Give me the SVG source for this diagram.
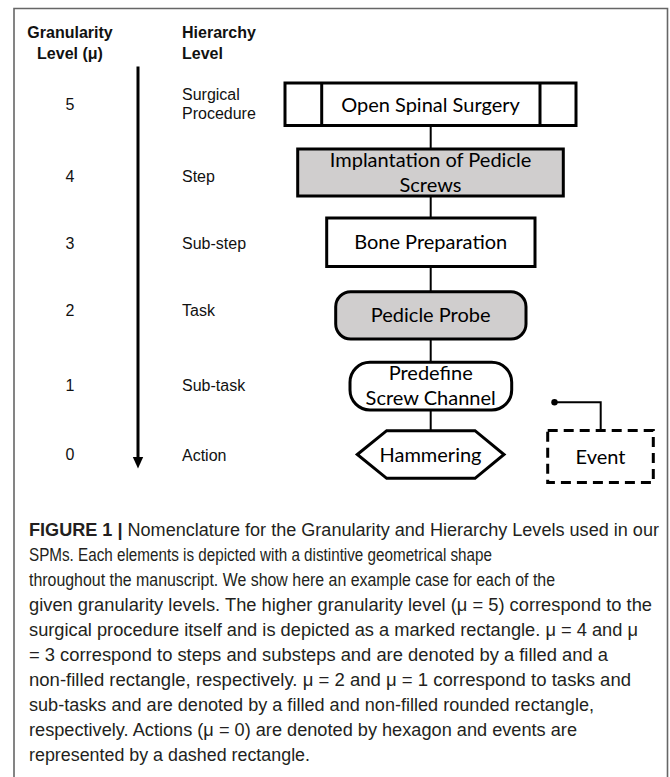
<svg xmlns="http://www.w3.org/2000/svg" width="670" height="777" viewBox="0 0 670 777">
<defs>
<style>
.lbl{font-family:"Liberation Sans",Arial,sans-serif;font-size:16px;fill:#111}
.hd{font-family:"Liberation Sans",Arial,sans-serif;font-size:16px;font-weight:bold;fill:#111}
.bx{font-family:Lato,"Open Sans",sans-serif;font-size:20px;fill:#000;text-anchor:middle}
.shape{stroke:#000;stroke-width:3;fill:#fff}
.fill{fill:#d0cece}
.conn{stroke:#000;stroke-width:2;fill:none}
.cap{font-family:"Liberation Sans",Arial,sans-serif;font-size:17.5px;fill:#231f20}
</style>
</defs>
<rect x="0" y="0" width="670" height="777" fill="#fff"/>
<path d="M14,790 L14,8.5 L667.5,8.5 L667.5,790" fill="none" stroke="#666" stroke-width="1.6"/>

<g id="headers">
<text class="hd" x="70" y="37.5" text-anchor="middle">Granularity</text>
<text class="hd" x="70" y="58.5" text-anchor="middle">Level (μ)</text>
<text class="hd" x="182" y="37.5">Hierarchy</text>
<text class="hd" x="182" y="58.5">Level</text>
</g>

<g id="levels">
<text class="lbl" x="70" y="110" text-anchor="middle">5</text>
<text class="lbl" x="182" y="100">Surgical</text>
<text class="lbl" x="182" y="119">Procedure</text>
<text class="lbl" x="70" y="181.5" text-anchor="middle">4</text>
<text class="lbl" x="182" y="181.5">Step</text>
<text class="lbl" x="70" y="248.5" text-anchor="middle">3</text>
<text class="lbl" x="182" y="248.5">Sub-step</text>
<text class="lbl" x="70" y="316" text-anchor="middle">2</text>
<text class="lbl" x="182" y="316">Task</text>
<text class="lbl" x="70" y="391" text-anchor="middle">1</text>
<text class="lbl" x="182" y="391">Sub-task</text>
<text class="lbl" x="70" y="460" text-anchor="middle">0</text>
<text class="lbl" x="182" y="461">Action</text>
</g>

<g id="axis-arrow">
<line x1="138" y1="66.5" x2="138" y2="459" stroke="#000" stroke-width="3"/>
<polygon points="132.8,457 143.2,457 138,468.5" fill="#000"/>
</g>

<g id="connectors">
<line class="conn" x1="430.7" y1="125.5" x2="430.7" y2="149"/>
<line class="conn" x1="430.7" y1="196" x2="430.7" y2="218"/>
<line class="conn" x1="430.7" y1="266.5" x2="430.7" y2="291.7"/>
<line class="conn" x1="430.7" y1="339" x2="430.7" y2="362.3"/>
<line class="conn" x1="430.7" y1="410" x2="430.7" y2="430.7"/>
<circle cx="554.5" cy="402.3" r="3.2" fill="#000"/>
<path class="conn" d="M554.5,402.3 H600.7 V430"/>
</g>

<g id="surgical-procedure">
<rect class="shape" x="285" y="83" width="291" height="42.5"/>
<line x1="321.7" y1="83" x2="321.7" y2="125.5" stroke="#000" stroke-width="3"/>
<line x1="540" y1="83" x2="540" y2="125.5" stroke="#000" stroke-width="3"/>
<text class="bx" x="430.5" y="111.5">Open Spinal Surgery</text>
</g>

<g id="step">
<rect class="shape fill" x="297.7" y="149" width="265.6" height="47"/>
<text class="bx" x="430.5" y="166.5">Implantation of Pedicle</text>
<text class="bx" x="430.5" y="191.5">Screws</text>
</g>

<g id="sub-step">
<rect class="shape" x="326.7" y="218" width="208.3" height="48.5"/>
<text class="bx" x="430.7" y="249">Bone Preparation</text>
</g>

<g id="task">
<rect class="shape fill" x="335.7" y="291.7" width="190.3" height="47.3" rx="15" ry="15"/>
<text class="bx" x="430.7" y="321.5">Pedicle Probe</text>
</g>

<g id="sub-task">
<rect class="shape" x="350" y="362.3" width="161.7" height="47.7" rx="20" ry="20"/>
<text class="bx" x="430.7" y="380">Predefine</text>
<text class="bx" x="430.7" y="405">Screw Channel</text>
</g>

<g id="action">
<polygon class="shape" points="357.3,454.5 386.7,430.7 475,430.7 504,454.5 475,478.3 386.7,478.3"/>
<text class="bx" x="430.5" y="461.5">Hammering</text>
</g>

<g id="event">
<rect x="547.7" y="430.5" width="105.6" height="52" fill="#fff" stroke="#000" stroke-width="3" stroke-dasharray="10,6"/>
<text class="bx" x="600.5" y="464">Event</text>
</g>

<g id="caption">
<text class="cap" x="29" y="536" textLength="630" lengthAdjust="spacingAndGlyphs"><tspan font-weight="bold">FIGURE 1 |</tspan> Nomenclature for the Granularity and Hierarchy Levels used in our</text>
<text class="cap" x="29" y="561" textLength="463" lengthAdjust="spacingAndGlyphs">SPMs. Each elements is depicted with a distintive geometrical shape</text>
<text class="cap" x="29" y="586" textLength="526" lengthAdjust="spacingAndGlyphs">throughout the manuscript. We show here an example case for each of the</text>
<text class="cap" x="29" y="611" textLength="623" lengthAdjust="spacingAndGlyphs">given granularity levels. The higher granularity level (μ = 5) correspond to the</text>
<text class="cap" x="29" y="636" textLength="609" lengthAdjust="spacingAndGlyphs">surgical procedure itself and is depicted as a marked rectangle. μ = 4 and μ</text>
<text class="cap" x="29" y="661" textLength="579" lengthAdjust="spacingAndGlyphs">= 3 correspond to steps and substeps and are denoted by a filled and a</text>
<text class="cap" x="29" y="686" textLength="602" lengthAdjust="spacingAndGlyphs">non-filled rectangle, respectively. μ = 2 and μ = 1 correspond to tasks and</text>
<text class="cap" x="29" y="711" textLength="565" lengthAdjust="spacingAndGlyphs">sub-tasks and are denoted by a filled and non-filled rounded rectangle,</text>
<text class="cap" x="29" y="736" textLength="548" lengthAdjust="spacingAndGlyphs">respectively. Actions (μ = 0) are denoted by hexagon and events are</text>
<text class="cap" x="29" y="761" textLength="281" lengthAdjust="spacingAndGlyphs">represented by a dashed rectangle.</text>
</g>
</svg>
